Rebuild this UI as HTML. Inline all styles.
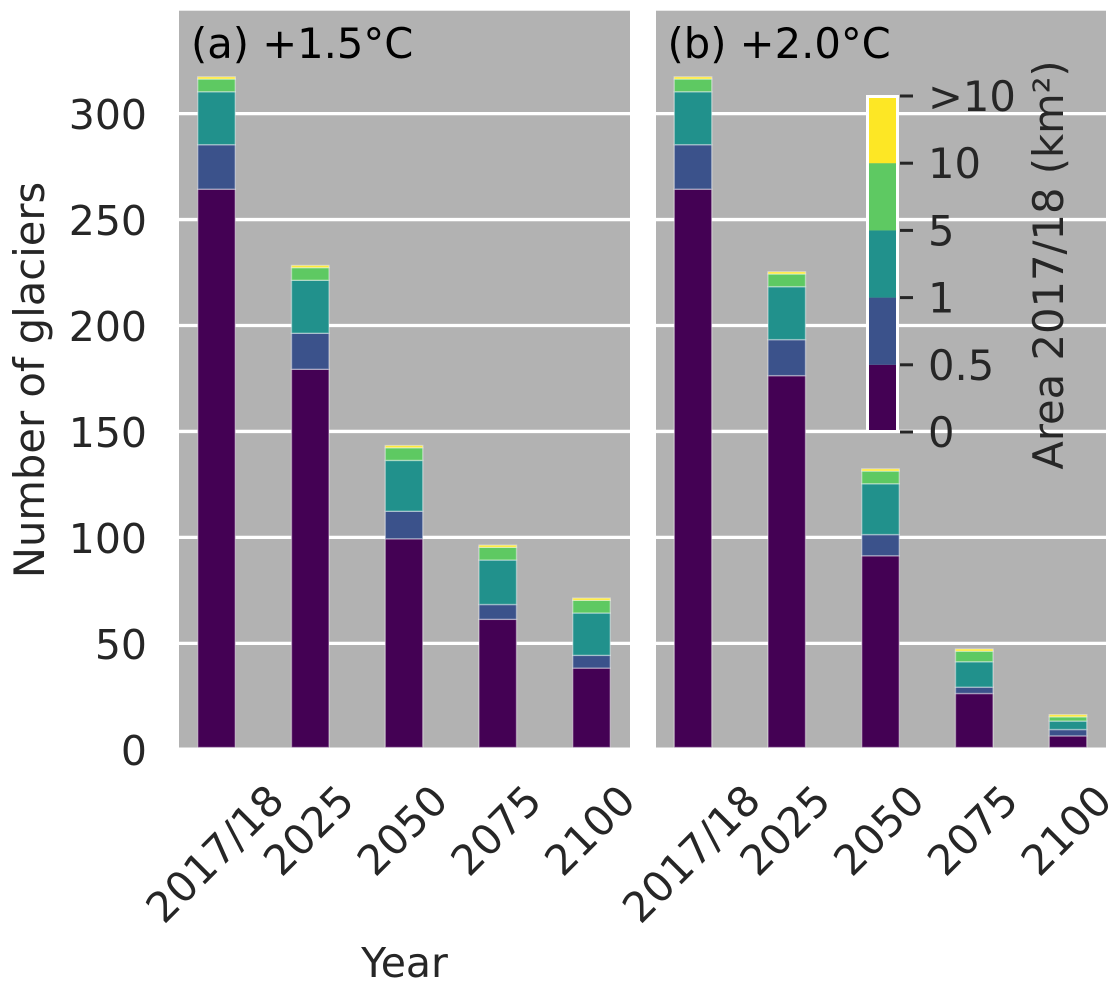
<!DOCTYPE html>
<html>
<head>
<meta charset="utf-8">
<title>Number of glaciers by year</title>
<style>
html,body{margin:0;padding:0;background:#fff;width:1120px;height:989px;overflow:hidden}
svg{display:block;font-family:"DejaVu Sans","Liberation Sans",sans-serif}
</style>
</head>
<body>
<svg id="chart" xmlns="http://www.w3.org/2000/svg" width="1120" height="989" viewBox="0 0 1120 989"></svg>
<script>
const categories = ["2017/18", "2025", "2050", "2075", "2100"];
const yTicks = [0, 50, 100, 150, 200, 250, 300];
const yTickLabels = ["0", "50", "100", "150", "200", "250", "300"];
const colorbarLabels = ["0", "0.5", "1", "5", "10", ">10"];

const panelABin1 = [264, 179, 99, 61, 38];
const panelABin2 = [21, 17, 13, 7, 6];
const panelABin3 = [25, 25, 24, 21, 20];
const panelABin4 = [6, 6, 6, 6, 6];
const panelABin5 = [1, 1, 1, 1, 1];

const panelBBin1 = [264, 176, 91, 26, 6];
const panelBBin2 = [21, 17, 10, 3, 3];
const panelBBin3 = [25, 25, 24, 12, 4];
const panelBBin4 = [6, 6, 6, 5, 2];
const panelBBin5 = [1, 1, 1, 1, 1];

const palette = ["#440154", "#3b528b", "#21918c", "#5ec962", "#fde725"];
const NS = "http://www.w3.org/2000/svg";
const svg = document.getElementById("chart");
const TOP = 10.7, BOTTOM = 747.5, ZERO_Y = 749.3, BAR_SHIFT = 0.7, PX_PER_UNIT = 2.119, UNIT_X = 93.75;
const FONT = 41.67;
const INK = "#262626";

function make(tag, attrs, text) {
  const el = document.createElementNS(NS, tag);
  for (const k in attrs) el.setAttribute(k, attrs[k]);
  if (text !== undefined) el.textContent = text;
  svg.appendChild(el);
  return el;
}
function yScale(v) { return ZERO_Y - v * PX_PER_UNIT; }
function xScale(i, origin) { return origin + (i + 0.4) * UNIT_X; }

function drawPanel(key, left, right, origin, title, series) {
  const bg = make("rect", {x: left, y: TOP, width: right - left, height: BOTTOM - TOP, fill: "#b2b2b2"});
  
  

  yTicks.forEach(function (t) {
    if (t === 0) return;
    const g = make("line", {x1: left, x2: right, y1: yScale(t), y2: yScale(t), stroke: "#fff", "stroke-width": 3.3});
    
    
  });

  const barW = 0.4 * UNIT_X;
  categories.forEach(function (c, i) {
    let base = 0;
    series.forEach(function (s, b) {
      const v = s[i];
      const yTop = yScale(base + v) - BAR_SHIFT, yBot = Math.min(yScale(base) - BAR_SHIFT, BOTTOM);
      const r = make("rect", {
        x: xScale(i, origin) - barW / 2, y: yTop, width: barW, height: yBot - yTop,
        fill: palette[b], stroke: "#fff", "stroke-opacity": 0.4, "stroke-width": 1.4
      });
      
      
      base += v;
    });
    const lx = xScale(i, origin) - 2, ly = i === 0 ? 853.5 : 830;
    const lab = make("text", {
      x: lx, y: ly + 15, "text-anchor": "middle", "font-size": FONT, fill: INK,
      transform: "rotate(-45 " + lx + " " + ly + ")"
    }, c);
    
    
  });

  const ttl = make("text", {x: origin + 12, y: 58, "font-size": FONT, fill: "#000"}, title);
  
  
}

drawPanel("a", 179, 630, 179, "(a) +1.5°C", [panelABin1, panelABin2, panelABin3, panelABin4, panelABin5]);
drawPanel("b", 656, 1106, 655.5, "(b) +2.0°C", [panelBBin1, panelBBin2, panelBBin3, panelBBin4, panelBBin5]);

yTicks.forEach(function (t, i) {
  const l = make("text", {x: 147, y: yScale(t) + 15.5, "text-anchor": "end", "font-size": 41, fill: INK}, yTickLabels[i]);
  
  
});

const yTitle = make("text", {x: 0, y: 0, "text-anchor": "middle", "font-size": FONT, fill: INK, transform: "translate(44 380) rotate(-90)"}, "Number of glaciers");



const xTitle = make("text", {x: 404.5, y: 977, "text-anchor": "middle", "font-size": 41, fill: INK}, "Year");



function cbY(i) { return 432 - i * 336 / 5; }
colorbarLabels.slice(1).forEach(function (lbl, i) {
  const seg = make("rect", {x: 868, y: cbY(i + 1), width: 30, height: cbY(i) - cbY(i + 1), fill: palette[i]});
  
  
});
const cbFrame = make("rect", {x: 867.5, y: 96.5, width: 30, height: 335, fill: "none", stroke: "#fff", "stroke-width": 3});


colorbarLabels.forEach(function (lbl, i) {
  const tick = make("line", {x1: 900, x2: 913, y1: cbY(i), y2: cbY(i), stroke: INK, "stroke-width": 3});
  
  
  const t = make("text", {x: 928, y: cbY(i) + 15, "font-size": FONT, fill: INK}, lbl);
  
  
});
const cbTitle = make("text", {x: 0, y: 0, "text-anchor": "middle", "font-size": FONT, fill: INK, transform: "translate(1063 265) rotate(-90)"}, "Area 2017/18 (km²)");


</script>
</body>
</html>
